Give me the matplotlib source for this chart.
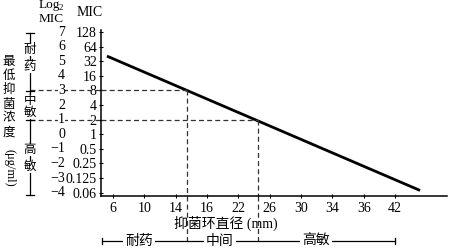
import matplotlib.pyplot as plt
from matplotlib.transforms import Affine2D, blended_transform_factory

plt.rcParams['font.family'] = ['Liberation Serif', 'Noto Sans CJK SC']

# data
dia_labels = ['6', '10', '14', '16', '22', '26', '30', '34', '36', '42']
log2_mic = [7, 6, 5, 4, 3, 2, 1, 0, -1, -2, -3, -4]
mic_labels = ['128', '64', '32', '16', '8', '4', '2', '1', '0.5', '0.25', '0.125', '0.06']
line_x = [-0.19, 9.80]
line_y = [5.35, -3.85]
cut_x = [2.36, 4.63]
cut_y = [3, 1]

W, H = 450, 248
fig = plt.figure(figsize=(W / 100, H / 100), dpi=100)
ax = fig.add_axes([101 / W, 1 - 196 / H, 346 / W, 166 / H])

# pixel transform (origin top-left)
pix = Affine2D().scale(1 / W, -1 / H).translate(0, 1) + fig.transFigure
pix_x_data_y = blended_transform_factory(pix, ax.transData)
data_x_pix_y = blended_transform_factory(ax.transData, pix)

ax.set_xlim(-0.38, 10.66)
ax.set_ylim(-4.23, 7.137)
for s in ['top', 'right']:
    ax.spines[s].set_visible(False)
for s in ['left', 'bottom']:
    ax.spines[s].set_linewidth(1.1)

ax.plot(line_x, line_y, color='black', lw=2.0, solid_capstyle='butt')

dash = dict(color='#333333', lw=0.9, dashes=(4, 2.5), clip_on=False)
for cx, cy in zip(cut_x, cut_y):
    ax.plot([-0.38, cx], [cy, cy], **dash)
    ax.plot([30, 101], [cy, cy], transform=pix_x_data_y, **dash)
    ax.plot([cx, cx], [cy, -4.23], **dash)
    ax.plot([cx, cx], [196, 241], transform=data_x_pix_y, **dash)

num_fs = 10
ax.set_xticks(range(len(dia_labels)))
ax.set_xticklabels(dia_labels, fontsize=num_fs)
ax.set_yticks(log2_mic)
ax.set_yticklabels(mic_labels, fontsize=num_fs)
ax.tick_params(direction='inout', length=3, width=0.8)
ax.tick_params(axis='y', pad=1.5)
ax.tick_params(axis='x', pad=3.0)
for lab in ax.get_yticklabels():
    lab.set_bbox(dict(facecolor='white', edgecolor='none', pad=0.3))

for v in log2_mic:
    t = str(v) if v >= 0 else '\u2212' + str(-v)
    ax.text(65, v, t, transform=pix_x_data_y, ha='right', va='center',
            fontsize=num_fs, bbox=dict(facecolor='white', edgecolor='none', pad=0.3))

ax.set_xlabel('抑菌环直径 (mm)', fontsize=10)
ax.xaxis.set_label_coords((226 - 101) / 346, -(223 - 196) / 166)
ax.xaxis.label.set_va('center')

# column headers
fig.text(49, 5, 'Log', transform=pix, ha='center', va='center', fontsize=9.5)
fig.text(59, 8, '2', transform=pix, ha='left', va='center', fontsize=6.5)
fig.text(51, 18.5, 'MIC', transform=pix, ha='center', va='center', fontsize=9.5)
fig.text(90, 12, 'MIC', transform=pix, ha='center', va='center', fontsize=10)

# vertical y label
for i, ch in enumerate('最低抑菌浓度'):
    fig.text(9, 62 + 14.2 * i, ch, transform=pix, ha='center', va='center', fontsize=9)
fig.text(9, 168, '(μg/ml)', transform=pix, ha='center', va='center',
         rotation=270, fontsize=9)

# left bracket
blk = dict(color='black', lw=0.9, transform=pix)
fig.add_artist(plt.Line2D([30, 30], [33, 195], **blk))
for yy in [33, 91, 120, 195]:
    fig.add_artist(plt.Line2D([26, 34], [yy, yy], **blk))
white = dict(facecolor='white', edgecolor='none', pad=0.2)
for ch, yy in [('耐', 50), ('药', 67), ('中', 101), ('敏', 113), ('高', 150), ('敏', 167)]:
    fig.text(30, yy, ch, transform=pix, ha='center', va='center', fontsize=9, bbox=white)

# bottom bracket
fig.add_artist(plt.Line2D([102, 395], [241, 241], **blk))
for xx in [102, 395]:
    fig.add_artist(plt.Line2D([xx, xx], [238, 244], **blk))
for txt, xx in [('耐药', 139), ('中间', 220), ('高敏', 316)]:
    fig.text(xx, 241, txt, transform=pix, ha='center', va='center', fontsize=10,
             bbox=dict(facecolor='white', edgecolor='none', pad=1.5))

fig.savefig('out.png', dpi=100)
